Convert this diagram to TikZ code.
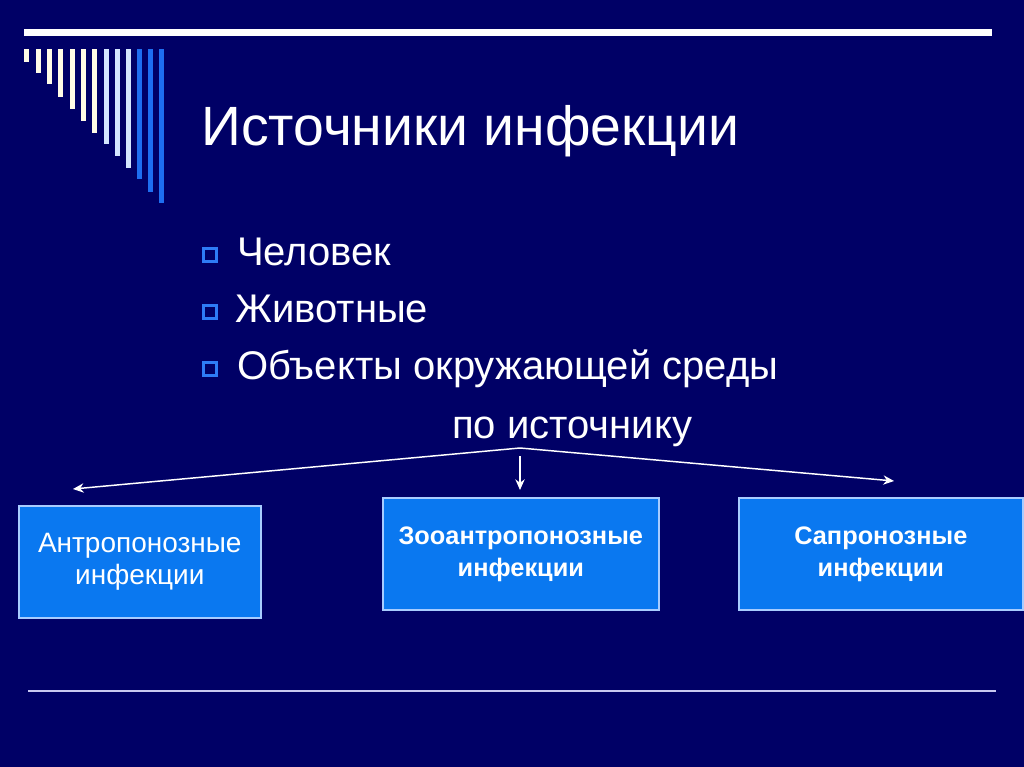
\documentclass[tikz,border=0pt]{standalone}
\usepackage{fontspec}
\setmainfont{Liberation Sans}
\usetikzlibrary{arrows.meta}
\definecolor{bg}{HTML}{000066}
\definecolor{cream}{HTML}{FFFBE6}
\definecolor{lblue}{HTML}{D4E6FF}
\definecolor{mblue}{HTML}{1E6EF0}
\definecolor{boxfill}{HTML}{0A78F0}
\definecolor{boxedge}{HTML}{A8CCFF}
\definecolor{bulletc}{HTML}{2E7CF6}
\definecolor{rulec}{HTML}{C8C8F0}
\tikzset{
  box/.style={draw=boxedge, line width=1.2pt, fill=boxfill, text=white, align=center, anchor=north west, inner sep=0pt},
  arr/.style={draw=white, line width=1.1pt, -{Stealth[length=8pt,width=7pt]}},
  bullettext/.style={anchor=base west, text=white, font=\fontsize{30}{34}\selectfont, inner sep=0pt},
  sq/.style={draw=bulletc, line width=2.4pt, minimum size=10pt, inner sep=0pt}
}
\begin{document}
\begin{tikzpicture}[x=0.75pt,y=-0.75pt]
\fill[bg] (0,0) rectangle (1024,767);
\useasboundingbox (0,0) rectangle (1024,767);
% top bar
\fill[white] (24,29) rectangle (992,36);
% vertical bars
\foreach \x/\b/\c in {26/62/cream,38/73/cream,49/84/cream,60/97/cream,72/109/cream,83/121/cream,94/133/cream,106/144/lblue,117/156/lblue,128/168/lblue,139/179/mblue,150/192/mblue,161/203/mblue}
  \fill[\c] (\x-2.5,49) rectangle (\x+2.5,\b);
% title
\node[anchor=base west, text=white, font=\fontsize{41.5}{48}\selectfont, inner sep=0pt] (title) at (201,145) {Источники инфекции};
% bullets
\node[sq] (b1) at (210,255) {};
\node[bullettext] (t1) at (237,265) {Человек};
\node[sq] (b2) at (210,312) {};
\node[bullettext] (t2) at (235,322) {Животные};
\node[sq] (b3) at (210,369) {};
\node[bullettext] (t3) at (237,379) {Объекты окружающей среды};
\node[bullettext] (src) at (452,438) {по источнику};
% boxes
\node[box, minimum width=242pt*0.75, minimum height=112pt*0.75, font=\fontsize{21}{24}\selectfont] (anthro) at (18,505) {Антропонозные\\инфекции};
\node[box, minimum width=276pt*0.75, minimum height=112pt*0.75, font=\fontsize{19}{24}\bfseries\selectfont] (zoo) at (382,497) {Зооантропонозные\\инфекции};
\node[box, minimum width=284pt*0.75, minimum height=112pt*0.75, font=\fontsize{19}{24}\bfseries\selectfont] (sapro) at (738,497) {Сапронозные\\инфекции};
% arrows
\coordinate (apex) at (520,448);
\coordinate (lt) at (73,489);
\coordinate (rt) at (894,481);
\coordinate (dtop) at (520,456);
\coordinate (dbot) at (520,490);
\draw[arr] (apex) -- (lt);
\draw[arr] (apex) -- (rt);
\draw[arr] (dtop) -- (dbot);
% bottom rule
\draw[rulec, line width=1.5pt] (28,691) -- (996,691);
\end{tikzpicture}
\end{document}
